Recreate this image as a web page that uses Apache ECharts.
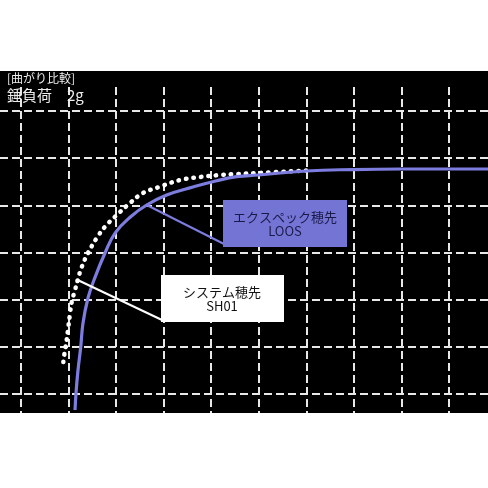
<!DOCTYPE html>
<html><head><meta charset="utf-8">
<script src="https://cdn.jsdelivr.net/npm/echarts@6/dist/echarts.min.js"></script>
<style>html,body{margin:0;padding:0;background:#fff}#c{width:488px;height:488px}</style>
</head><body><div id="c"></div>
<script>
// ---- data (x in grid divisions, y in grid divisions) ----
const titleText = '[曲がり比較]';
const loadText = '錘負荷　2g';
const loosLabel = ['エクスペック穂先', 'LOOS'];
const sh01Label = ['システム穂先', 'SH01'];
const xTicks = [0, 1, 2, 3, 4, 5, 6, 7, 8, 9];
const yTicks = [0, 1, 2, 3, 4, 5, 6];
const loosX = [1.136, 1.157, 1.199, 1.256, 1.304, 1.409, 1.535, 1.767, 1.985, 2.313, 2.643, 3.064, 3.617, 4.116, 4.536, 4.984, 5.994, 6.982, 7.992, 9.821];
const loosY = [-0.339, 0.021, 0.509, 0.996, 1.505, 2.035, 2.417, 2.989, 3.420, 3.763, 4.007, 4.219, 4.388, 4.522, 4.607, 4.643, 4.728, 4.759, 4.770, 4.770];
const sh01X = [0.890, 0.925, 0.961, 0.995, 1.030, 1.066, 1.136, 1.192, 1.277, 1.409, 1.592, 1.767, 1.977, 2.292, 2.566, 2.923, 3.344, 3.764, 4.185, 4.536, 4.984, 5.994];
const sh01Y = [0.678, 0.933, 1.145, 1.420, 1.700, 1.950, 2.205, 2.417, 2.692, 2.989, 3.307, 3.547, 3.759, 4.049, 4.261, 4.395, 4.537, 4.600, 4.643, 4.664, 4.685, 4.738];
const loosAnchor = 10;  // index of LOOS point the leader line touches
const sh01Anchor = 7;   // index of SH01 point the leader line touches

const FONT = '"Noto Sans CJK JP", "Noto Sans", sans-serif';
const chart = echarts.init(document.getElementById('c'), null, {renderer: 'canvas'});
const zip = (a, b) => a.map((v, i) => [v, b[i]]);
const dashLine = {show: true, lineStyle: {color: '#e8e8e8', width: 2, type: [8, 4]}};

const option = {
  backgroundColor: '#fff',
  animation: false,
  grid: [
    {left: 0, right: 0, top: 71, bottom: 75, show: true, backgroundColor: '#000', borderWidth: 0},
    {left: 0, right: 0, top: 111, bottom: 94},
    {left: 21, right: 39, top: 87, bottom: 75},
    {left: 21, right: 0, top: 111, bottom: 94}
  ],
  xAxis: [
    {gridIndex: 0, type: 'value', show: false, min: 0, max: 1},
    {gridIndex: 1, type: 'value', show: false, min: 0, max: 1},
    {gridIndex: 2, type: 'value', min: xTicks[0], max: xTicks[xTicks.length - 1], interval: 1,
     axisLine: {show: false}, axisTick: {show: false}, axisLabel: {show: false}, splitLine: dashLine},
    {gridIndex: 3, type: 'value', show: false, min: 0, max: 9.821}
  ],
  yAxis: [
    {gridIndex: 0, type: 'value', show: false, min: 0, max: 1},
    {gridIndex: 1, type: 'value', min: yTicks[0], max: yTicks[yTicks.length - 1], interval: 1,
     axisLine: {show: false}, axisTick: {show: false}, axisLabel: {show: false}, splitLine: dashLine},
    {gridIndex: 2, type: 'value', show: false, min: 0, max: 1},
    {gridIndex: 3, type: 'value', show: false, min: yTicks[0], max: yTicks[yTicks.length - 1], interval: 1}
  ],
  series: [
    {
      name: 'SH01', type: 'line', xAxisIndex: 3, yAxisIndex: 3, clip: false,
      data: zip(sh01X, sh01Y), showSymbol: false, smooth: 0.4,
      lineStyle: {color: '#ffffff', width: 4.5, type: [0.5, 7], cap: 'round'}, z: 3
    },
    {
      name: 'LOOS', type: 'line', xAxisIndex: 3, yAxisIndex: 3, clip: false,
      data: zip(loosX, loosY), showSymbol: false, smooth: 0.45,
      lineStyle: {color: '#7d7de0', width: 3.2}, z: 4
    }
  ]
};
chart.setOption(option);

const pL = chart.convertToPixel({xAxisIndex: 3, yAxisIndex: 3}, [loosX[loosAnchor], loosY[loosAnchor]]);
const pS = chart.convertToPixel({xAxisIndex: 3, yAxisIndex: 3}, [sh01X[sh01Anchor], sh01Y[sh01Anchor]]);

chart.setOption({
  graphic: [
    {type: 'text', left: 7, top: 72, z: 10,
     style: {text: titleText, fill: '#eeeeee', font: '12px ' + FONT}},
    {type: 'text', left: 7, top: 88, z: 10,
     style: {text: loadText, fill: '#eeeeee', font: '15px ' + FONT}},
    {type: 'line', z: 10, shape: {x1: pL[0], y1: pL[1], x2: 224, y2: 244},
     style: {stroke: '#7d7de0', lineWidth: 2}},
    {type: 'rect', z: 10, shape: {x: 223, y: 200, width: 124, height: 47},
     style: {fill: '#7474d4'}},
    {type: 'text', z: 11, x: 285, y: 224,
     style: {text: loosLabel.join('\n'), fill: '#1a1a4a', font: '13px ' + FONT,
             align: 'center', verticalAlign: 'middle', lineHeight: 14}},
    {type: 'line', z: 10, shape: {x1: pS[0], y1: pS[1], x2: 162, y2: 320},
     style: {stroke: '#ffffff', lineWidth: 2}},
    {type: 'rect', z: 10, shape: {x: 161, y: 275, width: 123, height: 47},
     style: {fill: '#ffffff'}},
    {type: 'text', z: 11, x: 222, y: 299,
     style: {text: sh01Label.join('\n'), fill: '#111', font: '13px ' + FONT,
             align: 'center', verticalAlign: 'middle', lineHeight: 14}}
  ]
});
</script></body></html>
